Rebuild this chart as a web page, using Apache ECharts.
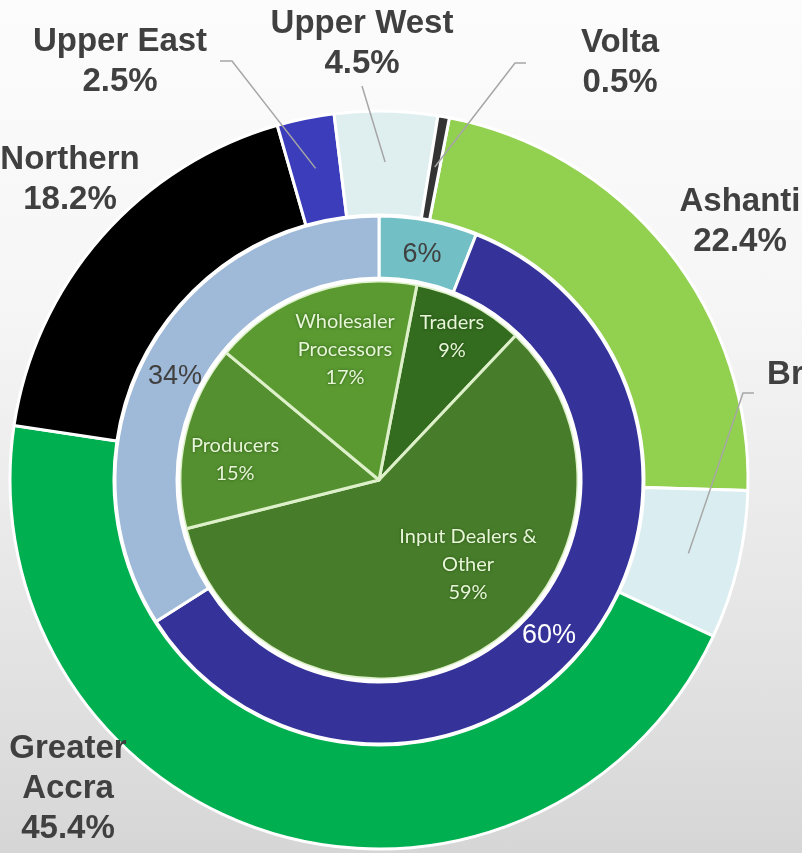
<!DOCTYPE html>
<html>
<head>
<meta charset="utf-8">
<script src="https://cdn.jsdelivr.net/npm/echarts@6/dist/echarts.min.js"></script>
<style>
html, body { margin: 0; padding: 0; }
#chart {
  width: 802px;
  height: 853px;
  background: linear-gradient(to bottom, #fcfcfc 0%, #f6f6f6 35%, #e4e4e4 75%, #d6d6d6 100%);
}
</style>
</head>
<body>
<div id="chart"></div>
<script>
// outer ring: regions
const regions = ['Ashanti', 'Brong Ahafo', 'Greater Accra', 'Northern', 'Upper East', 'Upper West', 'Volta'];
const regionText = ['Ashanti', 'Brong Ahafo', 'Greater\nAccra', 'Northern', 'Upper East', 'Upper West', 'Volta'];
const regionShare = [22.4, 6.5, 45.4, 18.2, 2.5, 4.5, 0.5];

// middle ring
const groups = ['Group A', 'Group B', 'Group C'];
const groupShare = [6, 60, 34];

// inner pie: actors
const actors = ['Traders', 'Input Dealers & Other', 'Producers', 'Wholesaler Processors'];
const actorText = ['Traders', 'Input Dealers &\nOther', 'Producers', 'Wholesaler\nProcessors'];
const actorShare = [9, 59, 15, 17];

const regionColors = ['#92d050', '#daedf0', '#00b050', '#000000', '#3c3dbb', '#dfeff0', '#333333'];
const groupColors = ['#72c0c6', '#35339a', '#9fb9d9'];
const groupTextColors = ['#404040', '#ffffff', '#404040'];
const actorColors = ['#336b1f', '#477d2a', '#54902f', '#5a9a31'];

const CX = 379, CY = 480;
const OUTER_R = 369;
const LINE_R = 318;      // leader lines start inside the slice
const OUTER_START = 79;  // echarts startAngle of outer ring and inner pie

// label anchors for the outer ring (and bend/end of leader lines)
const regionLabelSpots = [
  { x: 740, y: 222 },
  { x: 867, y: 395, line: [[743, 393], [754, 393]] },
  { x: 68, y: 789 },
  { x: 70, y: 180 },
  { x: 120, y: 62, line: [[232, 61], [220, 61]] },
  { x: 362, y: 44, line: [[362, 86], [362, 86]] },
  { x: 620, y: 63, line: [[515, 63], [526, 63]] }
];
const groupLabelSpots = [[422, 255], [549, 636], [175, 377]];
const actorLabelSpots = [[452, 337], [468, 565], [235, 460], [345, 350]];

// mid angle of a region slice, used for where the leader line starts
const regionTotal = regionShare.reduce((a, b) => a + b, 0);
function regionMid(i) {
  let before = 0;
  for (let k = 0; k < i; k++) before += regionShare[k];
  const frac = (before + regionShare[i] / 2) / regionTotal;
  return (90 - OUTER_START + 360 * frac) * Math.PI / 180;
}

const chart = echarts.init(document.getElementById('chart'));

chart.setOption({
  animation: false,
  backgroundColor: 'transparent',
  series: [
    {
      name: 'Region',
      type: 'pie',
      z: 2,
      center: [CX, CY],
      radius: [265, OUTER_R],
      startAngle: OUTER_START,
      clockwise: true,
      silent: true,
      itemStyle: { borderColor: '#ffffff', borderWidth: 3 },
      label: { show: false },
      labelLine: { show: false },
      data: regions.map((name, i) => ({
        name,
        value: regionShare[i],
        itemStyle: { color: regionColors[i] }
      }))
    },
    {
      // same ring, invisible, on top: carries the labels and leader lines
      name: 'Region labels',
      type: 'pie',
      z: 5,
      center: [CX, CY],
      radius: [265, OUTER_R],
      startAngle: OUTER_START,
      clockwise: true,
      avoidLabelOverlap: false,
      silent: true,
      itemStyle: { color: 'rgba(0,0,0,0)', borderWidth: 0 },
      label: {
        show: true,
        position: 'outside',
        fontFamily: 'Liberation Sans, Arial, sans-serif',
        fontWeight: 'bold',
        fontSize: 33,
        lineHeight: 40,
        color: '#404040',
        formatter: p => regionText[p.dataIndex] + '\n' + p.value.toFixed(1) + '%'
      },
      labelLine: {
        show: true,
        length: 10,
        length2: 10,
        lineStyle: { color: '#a6a6a6', width: 1.5 }
      },
      labelLayout: params => {
        const i = params.dataIndex;
        const spot = regionLabelSpots[i];
        const out = { x: spot.x, y: spot.y, align: 'center', verticalAlign: 'middle', width: 300 };
        if (spot.line) {
          const a = regionMid(i);
          out.labelLinePoints = [
            [CX + LINE_R * Math.sin(a), CY - LINE_R * Math.cos(a)],
            spot.line[0],
            spot.line[1]
          ];
        }
        return out;
      },
      data: regions.map((name, i) => ({
        name,
        value: regionShare[i],
        labelLine: { show: !!regionLabelSpots[i].line }
      }))
    },
    {
      name: 'Group',
      type: 'pie',
      z: 2,
      center: [CX, CY],
      radius: [202, 264],
      startAngle: 90,
      clockwise: true,
      silent: true,
      itemStyle: { borderColor: '#ffffff', borderWidth: 3 },
      label: {
        show: true,
        position: 'inside',
        fontFamily: 'Liberation Sans, Arial, sans-serif',
        fontSize: 27,
        formatter: '{c}%'
      },
      labelLayout: params => {
        const s = groupLabelSpots[params.dataIndex];
        return { x: s[0], y: s[1], align: 'center', verticalAlign: 'middle' };
      },
      labelLine: { show: false },
      data: groups.map((name, i) => ({
        name,
        value: groupShare[i],
        itemStyle: { color: groupColors[i] },
        label: { color: groupTextColors[i] }
      }))
    },
    {
      name: 'Actor',
      type: 'pie',
      z: 2,
      center: [CX, CY],
      radius: [0, 199],
      startAngle: OUTER_START,
      clockwise: true,
      silent: true,
      itemStyle: { borderColor: '#ddf0c9', borderWidth: 3 },
      label: {
        show: true,
        position: 'inside',
        fontFamily: 'Lato, Open Sans, sans-serif',
        fontSize: 20,
        lineHeight: 28,
        color: '#e6f6d6',
        textShadowColor: 'rgba(20,50,10,0.6)',
        textShadowBlur: 3,
        formatter: p => actorText[p.dataIndex] + '\n' + p.value + '%'
      },
      labelLayout: params => {
        const s = actorLabelSpots[params.dataIndex];
        return { x: s[0], y: s[1], align: 'center', verticalAlign: 'middle' };
      },
      labelLine: { show: false },
      data: actors.map((name, i) => ({
        name,
        value: actorShare[i],
        itemStyle: { color: actorColors[i] }
      }))
    },
    {
      // white rim around the inner pie
      name: 'Rim',
      type: 'pie',
      z: 2,
      center: [CX, CY],
      radius: [199, 202],
      silent: true,
      label: { show: false },
      labelLine: { show: false },
      itemStyle: { color: '#ffffff' },
      data: [{ name: 'rim', value: 1 }]
    }
  ]
});
</script>
</body>
</html>
